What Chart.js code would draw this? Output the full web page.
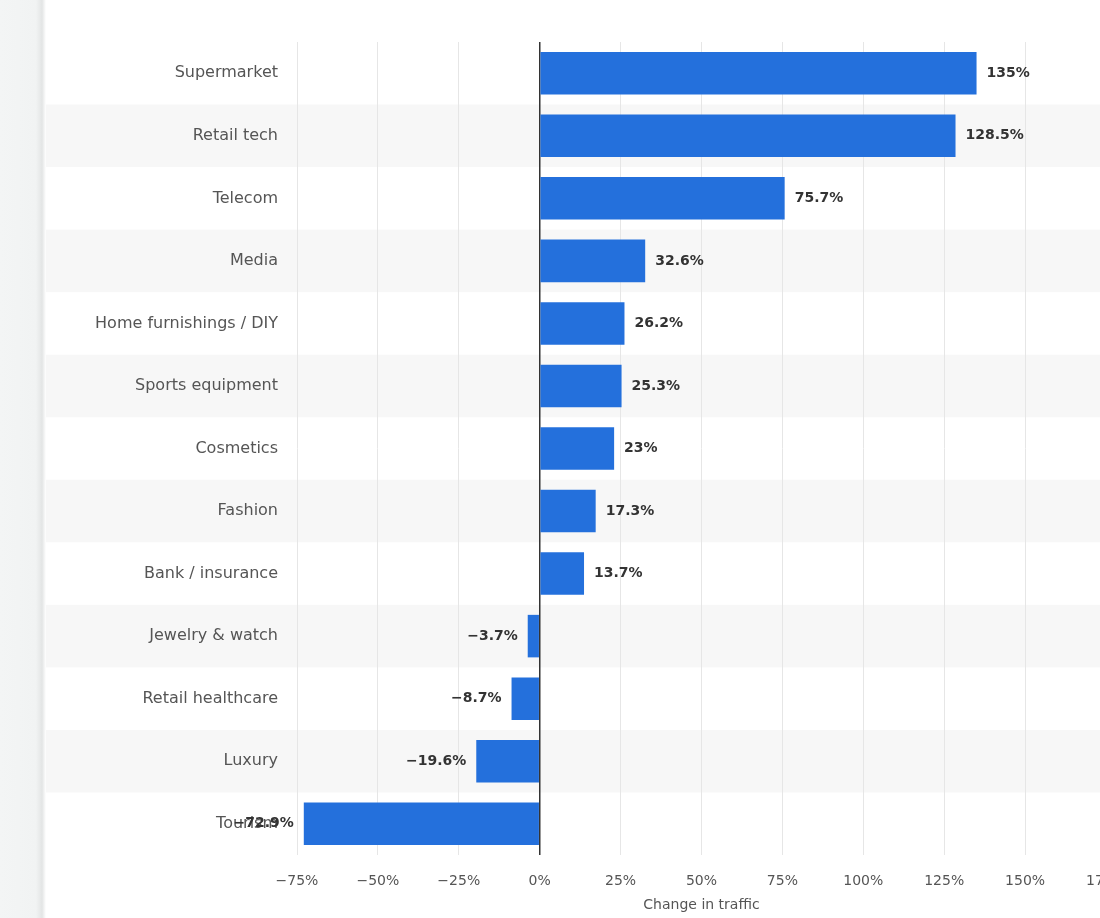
<!DOCTYPE html>
<html>
<head>
<meta charset="utf-8">
<script src="https://cdn.jsdelivr.net/npm/chart.js@4.4.1/dist/chart.umd.min.js"></script>
<style>
  html, body { margin: 0; padding: 0; width: 1100px; height: 918px; overflow: hidden; background: #fff; }
  #shade { position: absolute; left: 0; top: 0; width: 46px; height: 918px;
    background: linear-gradient(to right, #f3f5f5 0, #f1f3f3 36px, #e3e5e5 42px, #ffffff 46px); }
  #wrap { position: absolute; left: 0; top: 0; width: 1144px; height: 918px; }
</style>
</head>
<body>
<div id="shade"></div>
<div id="wrap"><canvas id="trafficChart"></canvas></div>
<script>
var categories = [
  "Supermarket",
  "Retail tech",
  "Telecom",
  "Media",
  "Home furnishings / DIY",
  "Sports equipment",
  "Cosmetics",
  "Fashion",
  "Bank / insurance",
  "Jewelry & watch",
  "Retail healthcare",
  "Luxury",
  "Tourism",
];
var trafficChange = [135, 128.5, 75.7, 32.6, 26.2, 25.3, 23, 17.3, 13.7, -3.7, -8.7, -19.6, -72.9];
var axisMin = -75;
var axisMax = 175;
var axisStep = 25;

function pct(v) {
  return (v < 0 ? "\u2212" : "") + Math.abs(v) + "%";
}

// light grey band behind every second row
var rowBands = {
  id: "rowBands",
  beforeDraw: function (chart) {
    var c = chart.ctx;
    var y = chart.scales.y;
    var step = y.getPixelForValue(1) - y.getPixelForValue(0);
    c.save();
    c.fillStyle = "#f7f7f7";
    for (var i = 1; i < categories.length; i += 2) {
      var py = y.getPixelForValue(i);
      c.fillRect(46, py - step / 2, chart.width - 46, step);
    }
    c.restore();
  },
};

// value labels next to bar ends
var valueLabels = {
  id: "valueLabels",
  afterDatasetsDraw: function (chart) {
    var c = chart.ctx;
    var meta = chart.getDatasetMeta(0);
    c.save();
    c.font = "bold 14px 'DejaVu Sans'";
    c.fillStyle = "#333";
    c.textBaseline = "middle";
    meta.data.forEach(function (bar, i) {
      var v = trafficChange[i];
      if (v >= 0) {
        c.textAlign = "left";
        c.fillText(pct(v), bar.x + 10, bar.y);
      } else {
        c.textAlign = "right";
        c.fillText(pct(v), bar.x - 10, bar.y);
      }
    });
    c.restore();
  },
};

var ctx = document.getElementById("trafficChart").getContext("2d");
var trafficChart = new Chart(ctx, {
  type: "bar",
  plugins: [rowBands, valueLabels],
  data: {
    labels: categories,
    datasets: [
      {
        label: "Change in traffic",
        data: trafficChange,
        backgroundColor: "#2470dc",
        barPercentage: 0.68,
        categoryPercentage: 1,
      },
    ],
  },
  options: {
    indexAxis: "y",
    responsive: true,
    maintainAspectRatio: false,
    animation: false,
    layout: { padding: { top: 42, bottom: 4, left: 0, right: 0 } },
    plugins: {
      legend: { display: false },
      tooltip: { enabled: false },
    },
    scales: {
      x: {
        min: axisMin,
        max: axisMax,
        grid: {
          drawTicks: false,
          color: function (c) {
            return c.tick && c.tick.value === 0 ? "#333" : "#e6e6e6";
          },
          lineWidth: function (c) {
            return c.tick && c.tick.value === 0 ? 1.5 : 1;
          },
        },
        border: { display: false },
        ticks: {
          stepSize: axisStep,
          padding: 18,
          color: "#555",
          font: { family: "DejaVu Sans", size: 14 },
          maxRotation: 0,
          callback: function (v) {
            return pct(v);
          },
        },
        title: {
          display: true,
          text: "Change in traffic",
          color: "#555",
          font: { family: "DejaVu Sans", size: 14 },
          padding: { top: 4, bottom: 0 },
        },
        afterFit: function (scale) {
          scale.height = 59;
        },
      },
      y: {
        grid: { display: false, drawTicks: false },
        border: { display: false },
        ticks: {
          padding: 19,
          color: "#555",
          font: { family: "DejaVu Sans", size: 16 },
        },
        afterFit: function (scale) {
          scale.width = 297;
        },
      },
    },
  },
});
</script>
</body>
</html>
